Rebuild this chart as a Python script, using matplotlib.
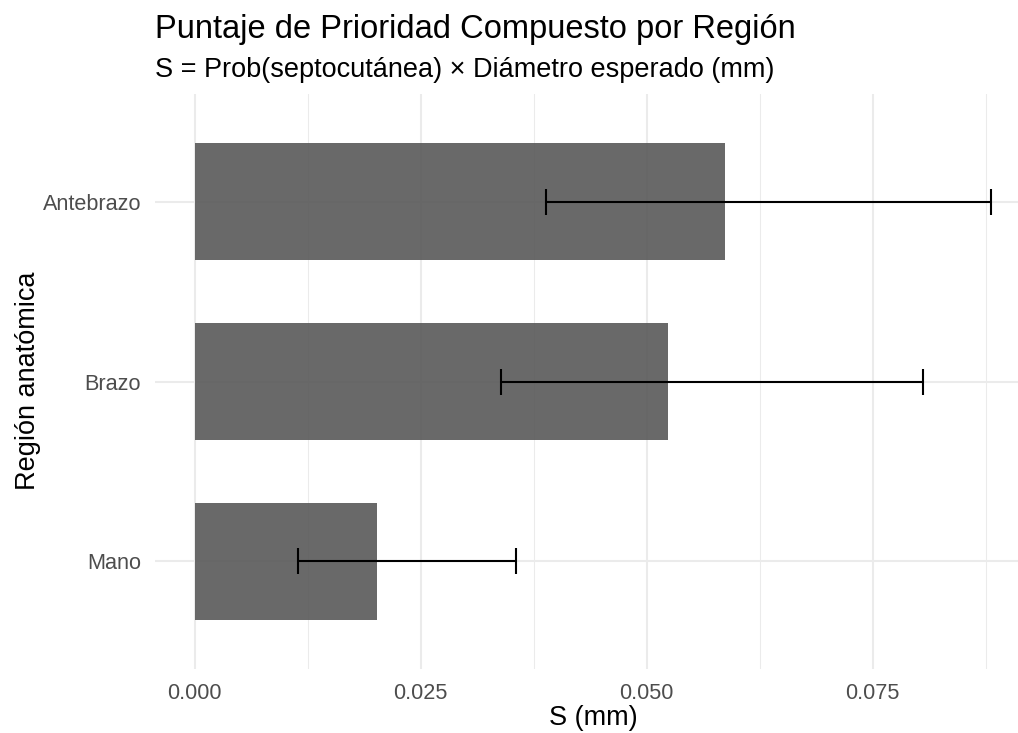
import numpy as np
import matplotlib
matplotlib.use("Agg")
import matplotlib.pyplot as plt
from matplotlib.ticker import MultipleLocator

# ---- data ----
regions = ["Mano", "Brazo", "Antebrazo"]
s_values = [0.0202, 0.0524, 0.0587]
ci_low = [0.0114, 0.0339, 0.0388]
ci_high = [0.0355, 0.0806, 0.0881]

plt.rcParams["font.family"] = ["Liberation Sans", "DejaVu Sans"]

W, H = 1018, 733
fig = plt.figure(figsize=(W / 100, H / 100), dpi=100)
# panel in pixels: left 155, right 1031 (cropped past the figure edge), top 94, bottom 669
ax = fig.add_axes([155 / W, 1 - 669 / H, (1031 - 155) / W, (669 - 94) / H])

y = np.arange(len(regions))
s = np.array(s_values)
lo = np.array(ci_low)
hi = np.array(ci_high)

grid_col = "#EBEBEB"
xmax = hi.max()
ax.set_xlim(-0.05 * xmax, 1.05 * xmax)
ax.set_ylim(-0.6, len(regions) - 1 + 0.6)

ax.xaxis.set_major_locator(MultipleLocator(0.025))
ax.xaxis.set_minor_locator(MultipleLocator(0.0125))
ax.grid(which="major", axis="both", color=grid_col, lw=1.5, zorder=0)
ax.grid(which="minor", axis="x", color=grid_col, lw=0.75, zorder=0)

ax.barh(y, s, height=0.65, color="#595959", alpha=0.9, zorder=2)
ax.errorbar(s, y, xerr=[s - lo, hi - s], fmt="none", ecolor="black",
            elinewidth=1.5, capsize=9.5, capthick=1.5, zorder=3)

ax.set_yticks(y)
ax.set_yticklabels(regions)
ax.xaxis.set_major_formatter(plt.FuncFormatter(lambda v, p: f"{v:.3f}"))
ax.tick_params(axis="both", which="both", length=0, labelsize=15.6,
               labelcolor="#4D4D4D")
ax.tick_params(axis="x", pad=10)
ax.tick_params(axis="y", pad=10)
for sp in ax.spines.values():
    sp.set_visible(False)

fig.text(155 / W, 1 - 38 / H, "Puntaje de Prioridad Compuesto por Región",
         fontsize=23.5, color="black", ha="left", va="baseline")
fig.text(155 / W, 1 - 77 / H, "S = Prob(septocutánea) × Diámetro esperado (mm)",
         fontsize=19.5, color="black", ha="left", va="baseline")
fig.text(593 / W, 1 - 718 / H, "S (mm)", fontsize=19.5, ha="center", va="center")
fig.text(28 / W, 1 - 381 / H, "Región anatómica", fontsize=19.5, rotation=90,
         ha="center", va="center")

fig.savefig("out.png", dpi=100)
